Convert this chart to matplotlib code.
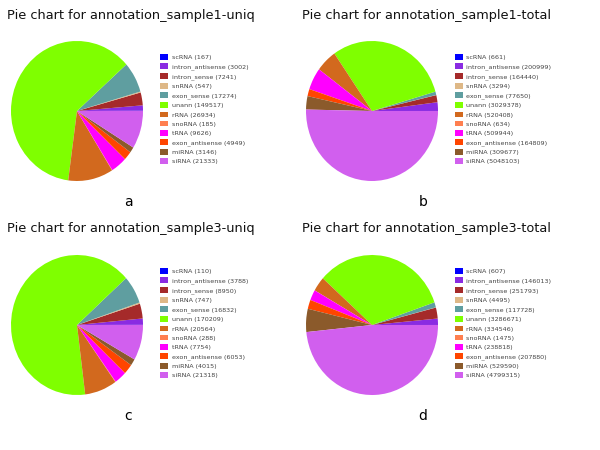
import matplotlib
matplotlib.use("Agg")
from matplotlib import pyplot as plt
from matplotlib.patches import Patch

categories = ["scRNA", "intron_antisense", "intron_sense", "snRNA", "exon_sense",
              "unann", "rRNA", "snoRNA", "tRNA", "exon_antisense", "miRNA", "siRNA"]
colors = ["#0000ff", "#8a2be2", "#a52a2a", "#deb887", "#5f9ea0", "#7fff00",
          "#d2691e", "#ff7f50", "#ff00ff", "#ff4500", "#8b5a2b", "#d15fee"]

sample1_uniq = [167, 3002, 7241, 547, 17274, 149517, 26934, 185, 9626, 4949, 3146, 21333]
sample1_total = [661, 200999, 164440, 3294, 77650, 3029378, 520408, 634, 509944, 164809,
                 309677, 5048103]
sample3_uniq = [110, 3788, 8950, 747, 16832, 170209, 20564, 288, 7754, 6053, 4015, 21318]
sample3_total = [607, 146013, 251793, 4495, 117728, 3286671, 334546, 1475, 238818, 207880,
                 529590, 4799315]

titles = ["Pie chart for annotation_sample1-uniq", "Pie chart for annotation_sample1-total",
          "Pie chart for annotation_sample3-uniq", "Pie chart for annotation_sample3-total"]
letters = ["a", "b", "c", "d"]
datasets = [sample1_uniq, sample1_total, sample3_uniq, sample3_total]

W, H = 600, 450
fig = plt.figure(figsize=(6, 4.5), dpi=100)


def px(x, y, w=0, h=0):
    # pixel box (top-left origin) -> figure fraction
    return [x / W, 1 - (y + h) / H, w / W, h / H]


for i, vals in enumerate(datasets):
    ox = 0 if i % 2 == 0 else 295
    oy = 0 if i < 2 else 214

    fig.text((ox + 7) / W, 1 - (oy + 15) / H, titles[i], fontsize=9.3,
             va="center", ha="left", color="#111111")

    cx, cy = ox + 77, oy + 111
    rx, ry = 66, 70
    ax = fig.add_axes(px(cx - rx, cy - ry, 2 * rx, 2 * ry))
    ax.pie(vals, colors=colors, startangle=0, counterclock=True,
           wedgeprops=dict(linewidth=0))
    ax.set_aspect("auto")
    ax.set_xlim(-1, 1)
    ax.set_ylim(-1, 1)

    labels = ["%s (%d)" % (c, v) for c, v in zip(categories, vals)]
    handles = [Patch(facecolor=c, edgecolor="none") for c in colors]
    fig.legend(handles, labels, loc="upper left",
               bbox_to_anchor=((ox + 160) / W, 1 - (oy + 54) / H),
               frameon=False, fontsize=4.6, handlelength=1.2, handleheight=1.0,
               handletextpad=0.6, labelspacing=0.5, borderaxespad=0, borderpad=0,
               labelcolor="#444444")

    fig.text((ox + 128) / W, 1 - (oy + 202) / H, letters[i], fontsize=10,
             ha="center", va="center")

fig.savefig("out.png", dpi=100)
